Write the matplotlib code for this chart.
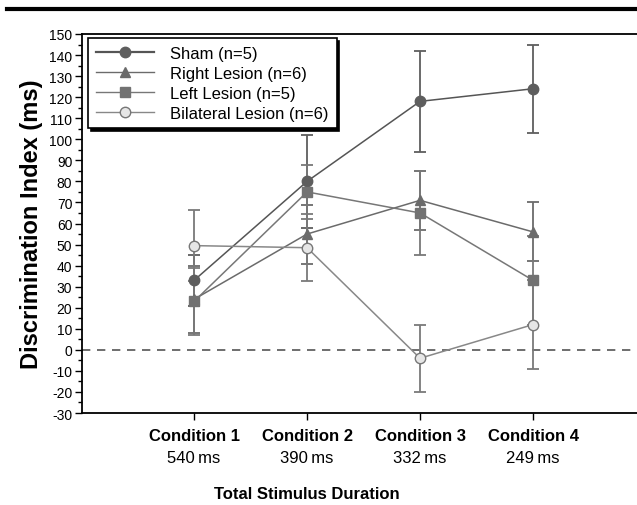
import matplotlib
matplotlib.use("Agg")
import matplotlib.pyplot as plt
from matplotlib.lines import Line2D
from matplotlib.ticker import MultipleLocator

plt.rcParams['font.family'] = ['Liberation Sans', 'DejaVu Sans']
plt.rcParams['axes.unicode_minus'] = False

conditions = ["Condition 1", "Condition 2", "Condition 3", "Condition 4"]
durations = ["540\u2009ms", "390\u2009ms", "332\u2009ms", "249\u2009ms"]
x = [1, 2, 3, 4]

sham = [33, 80, 118, 124]
sham_err = [12, 22, 24, 21]
right = [24, 55, 71, 56]
right_err = [16, 14, 14, 14]
left = [23, 75, 65, 33]
left_err = [16, 13, 20, 21]
bilat = [49.5, 48.5, -4, 12]
bilat_err = [17, 16, 16, 21]

labels = ["Sham (n=5)", "Right Lesion (n=6)", "Left Lesion (n=5)", "Bilateral Lesion (n=6)"]

fig = plt.figure(figsize=(6.37, 5.06), dpi=100)
ax = fig.add_axes([82/637, 1-414/506, 1-82/637, (414-35)/506])

series = [
    (sham, sham_err, 'o', '#5e5e5e', '#5e5e5e', '#555555', '#5e5e5e', 7.5),
    (right, right_err, '^', '#6b6b6b', '#6b6b6b', '#6b6b6b', '#6b6b6b', 7.5),
    (left, left_err, 's', '#727272', '#727272', '#777777', '#787878', 7.5),
    (bilat, bilat_err, 'o', '#e6e6e6', '#777777', '#888888', '#7a7a7a', 7.5),
]
handles = []
for (vals, errs, m, fc, ec, lc, errc, ms), lab in zip(series, labels):
    ax.errorbar(x, vals, yerr=errs, fmt='none', ecolor=errc, elinewidth=1.3,
                capsize=4, capthick=1.3, zorder=2)
    ax.plot(x, vals, color=lc, lw=1.1, zorder=3)
    ax.plot(x, vals, linestyle='none', marker=m, ms=ms, mfc=fc, mec=ec,
            mew=1.0, zorder=4)
    handles.append(Line2D([], [], color=lc, lw=1.6 if lab.startswith("Sham") else 1.0,
                          marker=m, ms=ms, mfc=fc, mec=ec))

ax.axhline(0, color='#555555', lw=1.2, ls=(0, (5, 4)), zorder=1)

ax.set_xlim(0.008, 4.92)
ax.set_ylim(-30, 150)
ax.yaxis.set_major_locator(MultipleLocator(10))
ax.yaxis.set_minor_locator(MultipleLocator(5))
ax.tick_params(axis='y', which='major', length=5, width=1, labelsize=10, pad=2)
ax.tick_params(axis='y', which='minor', length=3, width=1)
ax.set_xticks(x)
ax.set_xticklabels([])
ax.tick_params(axis='x', which='major', length=5, width=1)
for xi, c, d in zip(x, conditions, durations):
    ax.annotate(c, xy=(xi, 0), xycoords=('data', 'axes fraction'),
                xytext=(0, -16), textcoords='offset points',
                ha='center', va='center', fontsize=12, fontweight='bold')
    ax.annotate(d, xy=(xi, 0), xycoords=('data', 'axes fraction'),
                xytext=(0, -32), textcoords='offset points',
                ha='center', va='center', fontsize=12)

ax.spines['right'].set_visible(False)
for s in ['left', 'bottom', 'top']:
    ax.spines[s].set_linewidth(1.3)

ax.set_ylabel("Discrimination Index (ms)", fontsize=17, fontweight='bold', labelpad=4)
fig.text(307/637, 1-495/506, "Total Stimulus Duration", ha='center', va='center',
         fontsize=12, fontweight='bold')

leg = ax.legend(handles, labels, loc='upper left', bbox_to_anchor=(6/555, 1-4/379),
                fontsize=12, frameon=True, fancybox=False, shadow={'color': 'black', 'alpha': 1.0},
                edgecolor='black', handlelength=3.5, handletextpad=1.0,
                labelspacing=0.3, borderpad=0.45, borderaxespad=0)
leg.get_frame().set_linewidth(1.2)

fig.add_artist(Line2D([7/637, 1], [1-10/506, 1-10/506], color='black', lw=3,
                      transform=fig.transFigure))

fig.savefig("out.png", dpi=100)
